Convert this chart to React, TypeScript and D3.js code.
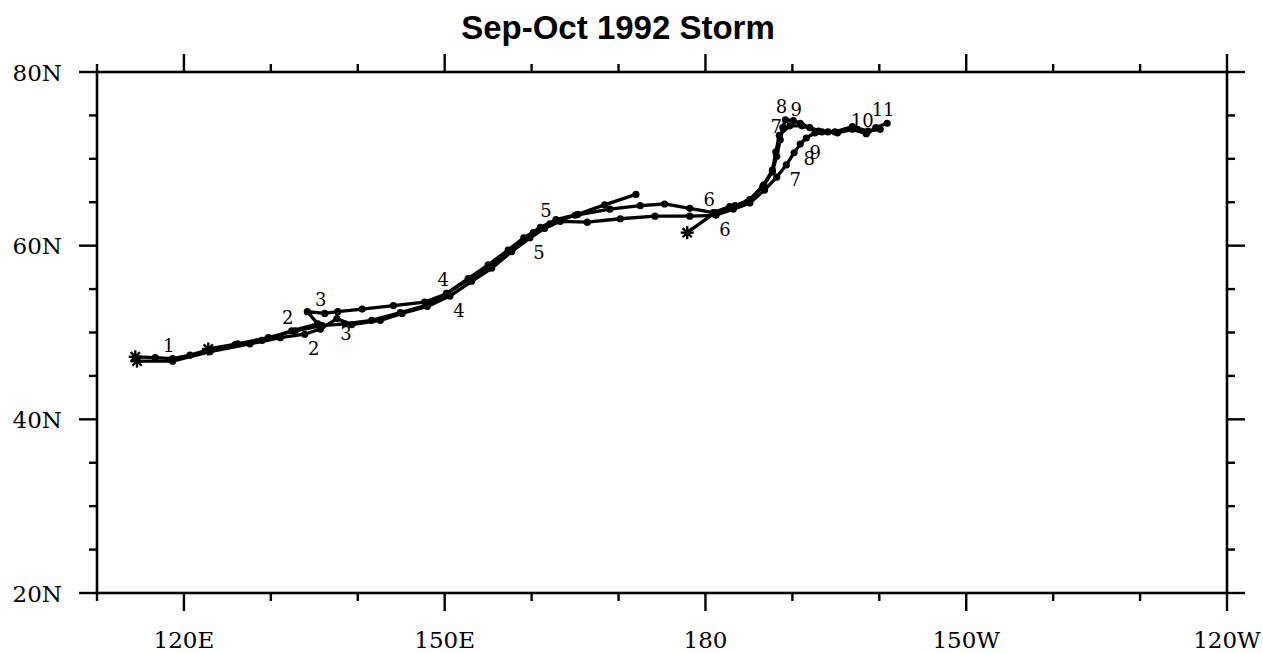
import React from "react";
import * as d3 from "d3";

// Storm track positions (longitude east 0-360, latitude north), 6-hourly fixes
const trackA: [number, number][] = [
  [114.4, 47.2], [116.7, 47.1], [118.7, 47.0], [120.7, 47.4], [122.8, 48.0],
  [125.9, 48.6], [129.0, 49.1], [132.4, 50.2], [135.4, 51.0], [134.2, 52.4],
  [136.2, 52.2], [137.7, 52.4], [140.5, 52.7], [144.1, 53.1], [147.7, 53.5],
  [150.3, 54.5], [152.9, 56.2], [155.2, 57.7], [157.5, 59.4], [160.2, 61.5],
  [162.1, 62.5], [165.0, 63.5], [169.0, 64.2], [172.5, 64.6], [175.3, 64.8],
  [178.2, 64.3], [180.9, 63.8], [182.8, 64.5], [184.8, 65.0], [186.6, 66.8],
  [187.7, 68.5], [188.2, 70.3], [188.6, 72.2], [188.9, 73.6], [189.2, 74.5],
  [190.1, 74.4], [190.9, 74.1], [192.0, 73.6], [193.4, 73.1], [195.2, 73.0],
  [196.9, 73.4], [198.5, 72.9], [199.6, 73.6], [200.9, 74.1],
];
// index of the fix at each day mark on track A (days 1..11)
const daysA = [1, 2, 3, 4, 5, 6, 7, 8, 9, 10, 11];
const dayIdxA = [2, 7, 10, 15, 20, 26, 32, 34, 36, 41, 43];

const trackB: [number, number][] = [
  [114.6, 46.7], [118.7, 46.7], [123.0, 47.8], [127.6, 48.7], [131.1, 49.4],
  [133.9, 49.8], [135.7, 50.4], [137.6, 51.6], [139.3, 50.9], [142.6, 51.4],
  [145.1, 52.2], [148.0, 53.0], [150.6, 54.2], [153.1, 55.9], [155.4, 57.4],
  [157.7, 59.3], [159.8, 60.9], [161.5, 62.0], [163.3, 62.8], [166.4, 62.7],
  [170.2, 63.1], [174.2, 63.4], [178.2, 63.4], [181.2, 63.5], [183.2, 64.2],
  [185.1, 64.9], [186.8, 66.4], [188.2, 67.9], [189.3, 69.3], [190.2, 70.7],
  [190.9, 71.7], [191.6, 72.4], [192.6, 73.0], [194.1, 73.1],
];
const daysB = [2, 3, 4, 5, 6, 7, 8, 9];
const dayIdxB = [5, 7, 12, 16, 23, 28, 30, 31];

const trackC: [number, number][] = [
  [122.8, 48.1], [126.2, 48.7], [129.7, 49.4], [132.8, 50.2], [135.9, 50.8],
  [138.5, 51.0], [141.6, 51.4], [144.9, 52.3], [147.8, 53.1], [150.2, 54.5],
  [152.7, 56.2], [155.0, 57.8], [157.3, 59.5], [159.1, 60.9], [161.0, 62.1],
  [162.8, 63.0], [165.3, 63.6], [168.4, 64.7], [172.0, 65.9],
];

const trackD: [number, number][] = [
  [177.9, 61.5], [181.1, 63.8], [183.4, 64.6], [185.1, 65.3], [186.7, 67.0],
  [187.7, 68.7], [188.1, 70.8], [188.5, 72.7], [189.7, 73.8], [191.1, 73.8],
  [193.0, 73.2], [194.9, 73.1], [196.9, 73.7], [198.7, 73.2], [200.1, 73.4],
];

const lonMajor = [120, 150, 180, 210, 240];
const lonLabels = ["120E", "150E", "180", "150W", "120W"];
const lonMinor = [110, 130, 140, 160, 170, 190, 200, 220, 230];
const latMajor = [80, 60, 40, 20];
const latLabels = ["80N", "60N", "40N", "20N"];
const latMinor = [75, 70, 65, 55, 50, 45, 35, 30, 25];

const title = "Sep-Oct 1992 Storm";

const W = 1263;
const H = 653;
const left = 97, right = 1227, top = 72, bottom = 593;

export default function App() {
  const x = d3.scaleLinear().domain([110, 240]).range([left, right]);
  const y = d3.scaleLinear().domain([20, 80]).range([bottom, top]);
  const line = d3
    .line<[number, number]>()
    .x((d) => x(d[0]))
    .y((d) => y(d[1]));

  const tracks = [trackA, trackB, trackC, trackD];
  const starts = [trackA[0], trackB[0], trackC[0], trackD[0]];

  const serif = "'DejaVu Serif', serif";
  const majorLen = 18;
  const minorLen = 8;

  const star = (cx: number, cy: number, key: string) => {
    const r = 6.5;
    return (
      <g key={key} stroke="#000" strokeWidth={2.4}>
        {[0, 45, 90, 135].map((a) => {
          const rad = (a * Math.PI) / 180;
          return (
            <line
              key={a}
              x1={cx - r * Math.cos(rad)}
              y1={cy - r * Math.sin(rad)}
              x2={cx + r * Math.cos(rad)}
              y2={cy + r * Math.sin(rad)}
            />
          );
        })}
      </g>
    );
  };

  return (
    <svg
      width={W}
      height={H}
      style={{ position: "absolute", left: 0, top: 0, background: "#fff" }}
    >
      <rect width={W} height={H} fill="#fff" />
      <text
        x={618}
        y={39}
        textAnchor="middle"
        fontFamily="'Liberation Sans', Arial, sans-serif"
        fontWeight="bold"
        fontSize={33}
      >
        {title}
      </text>

      {/* tracks */}
      <g fill="none" stroke="#000" strokeWidth={3.3} strokeLinejoin="round">
        {tracks.map((t, i) => (
          <path key={i} d={line(t) || ""} />
        ))}
      </g>
      <g fill="#000">
        {tracks.map((t, i) =>
          t.slice(1).map((d, j) => (
            <circle key={`${i}-${j}`} cx={x(d[0])} cy={y(d[1])} r={3.6} />
          ))
        )}
      </g>
      {starts.map((d, i) => star(x(d[0]), y(d[1]), `s${i}`))}

      {/* day labels */}
      <g fontFamily={serif} fontSize={18} textAnchor="middle" fill="#000">
        {daysA.map((dd, i) => {
          const p = trackA[dayIdxA[i]];
          return (
            <text key={`a${i}`} x={x(p[0]) - 4} y={y(p[1]) - 7}>
              {dd}
            </text>
          );
        })}
        {daysB.map((dd, i) => {
          const p = trackB[dayIdxB[i]];
          return (
            <text key={`b${i}`} x={x(p[0]) + 9} y={y(p[1]) + 21}>
              {dd}
            </text>
          );
        })}
      </g>

      {/* frame */}
      <rect
        x={left}
        y={top}
        width={right - left}
        height={bottom - top}
        fill="none"
        stroke="#000"
        strokeWidth={2.6}
      />
      <g stroke="#000" strokeWidth={2.4}>
        {lonMajor.map((v) => (
          <g key={`xm${v}`}>
            <line x1={x(v)} x2={x(v)} y1={bottom} y2={bottom + majorLen} />
            <line x1={x(v)} x2={x(v)} y1={top} y2={top - majorLen} />
          </g>
        ))}
        {lonMinor.map((v) => (
          <g key={`xn${v}`}>
            <line x1={x(v)} x2={x(v)} y1={bottom} y2={bottom + minorLen} />
            <line x1={x(v)} x2={x(v)} y1={top} y2={top - minorLen} />
          </g>
        ))}
        {latMajor.map((v) => (
          <g key={`ym${v}`}>
            <line x1={left} x2={left - majorLen} y1={y(v)} y2={y(v)} />
            <line x1={right} x2={right + majorLen} y1={y(v)} y2={y(v)} />
          </g>
        ))}
        {latMinor.map((v) => (
          <g key={`yn${v}`}>
            <line x1={left} x2={left - minorLen} y1={y(v)} y2={y(v)} />
            <line x1={right} x2={right + minorLen} y1={y(v)} y2={y(v)} />
          </g>
        ))}
      </g>
      <g fontFamily={serif} fontSize={23} fill="#000">
        {lonMajor.map((v, i) => (
          <text key={`xl${v}`} x={x(v)} y={648} textAnchor="middle">
            {lonLabels[i]}
          </text>
        ))}
        {latMajor.map((v, i) => (
          <text key={`yl${v}`} x={62} y={y(v) + 8.5} textAnchor="end">
            {latLabels[i]}
          </text>
        ))}
      </g>
    </svg>
  );
}
